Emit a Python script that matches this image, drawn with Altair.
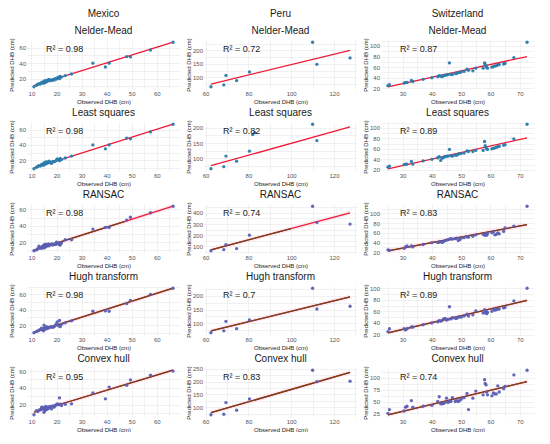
import altair as alt
import pandas as pd
import numpy as np

countries = ["Mexico", "Peru", "Switzerland"]
methods = ["Nelder-Mead", "Least squares", "RANSAC", "Hugh transform", "Convex hull"]

# ---------------- observed DHB per country ----------------
mexico_observed = [11.0, 12.0, 12.5, 13.0, 13.5, 14.0, 14.2, 14.8, 15.0, 15.2,
                   15.5, 15.8, 16.0, 16.3, 16.8, 17.0, 17.5, 18.0, 18.5, 19.0,
                   19.5, 20.0, 20.3, 20.8, 21.2, 21.5, 22.0, 23.5, 26.0, 34.5,
                   39.5, 41.0, 48.0, 49.5, 57.5, 66.5]
peru_observed = [62.5, 68.5, 69.5, 74.5, 80.5, 82.0, 83.0, 110.0, 112.0, 127.5]
switzerland_observed = [25.0, 25.5, 30.5, 31.0, 31.5, 33.0, 33.5, 37.0, 40.0,
                        42.0, 42.5, 43.0, 43.5, 44.0, 44.5, 45.0, 45.5, 46.0, 46.5,
                        47.0, 48.0, 48.5, 49.0, 49.5, 50.0, 51.0, 52.0, 52.5, 54.0,
                        55.0, 57.5, 58.0, 58.2, 58.5, 58.7, 59.0, 60.5, 61.0, 61.5,
                        62.0, 62.5, 63.0, 64.5, 65.0, 68.0, 72.5]

# ---------------- predicted DHB per method ----------------
mexico_nelder = [9.5, 11.5, 12.5, 13.5, 13, 14.5, 15.5, 14, 16.5, 17,
                 15, 17.5, 16, 18, 17, 19, 18, 17.5, 19, 18,
                 20, 19.5, 21, 22, 20, 23, 22, 24, 26, 40,
                 35, 40, 48.5, 48, 57, 67]
mexico_lsq = [9, 11, 12, 13, 12.5, 14, 15, 13.5, 16, 17,
              15, 18, 16, 17.5, 17, 19, 17.5, 16, 18.5, 18,
              19, 20.5, 22, 21, 19.5, 22.5, 21, 23, 25.5, 40,
              35, 40, 49, 48, 57, 67]
mexico_ransac = [9.5, 10.5, 12, 15, 13, 12.5, 14.5, 16, 13, 17,
                 14, 17.5, 15, 16.5, 18, 15.5, 17, 18, 16.5, 18,
                 17, 20, 18, 19, 17, 16.5, 19, 23, 23, 36,
                 38, 38, 47, 50.5, 56, 64]
mexico_hough = [10, 11.5, 12.5, 13.5, 14, 16, 15, 12.5, 20, 17,
                14.5, 16, 18, 15.5, 17, 16.5, 17.5, 18, 17, 18,
                19.5, 22, 24, 19, 26, 18, 21, 23, 25.5, 38,
                38.5, 38, 48, 52, 60, 68]
mexico_hull = [8, 13, 12, 13.5, 14, 16.5, 17, 15, 11, 17,
               13, 18, 15, 14.5, 17.5, 16, 18, 15, 18.5, 17,
               19, 20, 21, 20, 28, 20.5, 19, 20.5, 21, 34,
               27, 41, 43, 49.5, 55, 60]

peru_nelder = [65, 72, 107, 88, 120, None, None, 230, 148, 172]
peru_lsq = [65, 72, 107, 90, 123, 178, 184, 212, 158, None]
peru_ransac = [60, 70, 115, 80, 200, None, None, 460, 315, 300]
peru_hough = [65, 72, 107, 80, 112, None, None, 228, 152, 162]
peru_hull = [70, 72, 118, 88, 132, None, None, 245, 200, 202]

switzerland_nelder = [25, 27, 30, 31, 31, 35, 33, 37, 40,
                      42, 44, 43, 42, 44, 45, 45, 46, 68, 46,
                      46, 48, 48, 50, 50, 51, 52, 56, 54, 53,
                      58, 58, 68, 65, 62, 60, 58, 60, 61, 62,
                      63, 64, 65, 66, 67, 78, 107]
switzerland_lsq = [25, 27, 30, 31, 31, 36, 31, 37, 40,
                   43, 45, 38, 42, 44, 45, 46, 46, 59, 47,
                   46, 48, 48, 50, 51, 51, 52, 56, 55, 55,
                   57, 57, 74, 66, 62, 60, 59, 60, 61, 62,
                   63, 64, 65, 67, 68, 79, 107]
switzerland_ransac = [25, 24, 28, 31, 33, 33, 31, 36, 40,
                      40, 41, 42, 40, 42, 44, 45, 46, 47, 48,
                      47, 48, 49, 44, 46, 49, 50, 52, 51, 53,
                      56, 57, 55, 57, 59, 55, 58, 60, 62, 56,
                      57, 60, 58, 63, 70, 74, 115]
switzerland_hough = [25, 30, 30, 28, 30, 33, 33, 37, 40,
                     42, 44, 43, 44, 47, 48, 45, 46, 68, 47,
                     49, 48, 48, 50, 51, 50, 52, 55, 52, 54,
                     61, 57, 63, 58, 60, 56, 58, 60, 64, 62,
                     63, 64, 64, 66, 67, 78, 100]
switzerland_hull = [25, 33, 30, 38, 40, 52, 38, 40, 42,
                    50, 60, 45, 45, 46, 48, 57, 48, 50, 50,
                    58, 50, 52, 50, 52, 55, 58, 67, 33, 57,
                    72, 64, 96, 88, 85, 70, 64, 62, 68, 66,
                    66, 83, 70, 77, 82, 106, 116]

# ---------------- fitted line (y at smallest / largest observed DHB) ----------------
mexico_line_start = [11, 10, 10, 10.5, 11]
mexico_line_end = [67, 67, 64, 68, 61]
peru_line_start = [75, 75, 68, 72, 78]
peru_line_end = [200, 203, 400, 196, 237]
switzerland_line_start = [23, 22, 23, 23, 22]
switzerland_line_end = [80, 81, 77, 79, 92]

# where the dark fitted line stops covering the red one (RANSAC row)
mexico_dark_end = [None, None, 47, 66.5, 66.5]
peru_dark_end = [None, None, 100, 127.5, 127.5]
switzerland_dark_end = [None, None, 72.5, 72.5, 72.5]

# ---------------- R² labels ----------------
mexico_r2 = ["0.98", "0.98", "0.98", "0.98", "0.95"]
peru_r2 = ["0.72", "0.82", "0.74", "0.7", "0.83"]
switzerland_r2 = ["0.87", "0.89", "0.83", "0.89", "0.74"]

# ---------------- tick steps ----------------
x_step = {"Mexico": 10, "Peru": 20, "Switzerland": 10}
mexico_y_step = [20, 20, 20, 20, 20]
peru_y_step = [50, 50, 100, 50, 50]
switzerland_y_step = [20, 20, 20, 20, 25]

observed = {"Mexico": mexico_observed, "Peru": peru_observed, "Switzerland": switzerland_observed}
predicted = {
    "Mexico": [mexico_nelder, mexico_lsq, mexico_ransac, mexico_hough, mexico_hull],
    "Peru": [peru_nelder, peru_lsq, peru_ransac, peru_hough, peru_hull],
    "Switzerland": [switzerland_nelder, switzerland_lsq, switzerland_ransac,
                    switzerland_hough, switzerland_hull],
}
line_start = {"Mexico": mexico_line_start, "Peru": peru_line_start, "Switzerland": switzerland_line_start}
line_end = {"Mexico": mexico_line_end, "Peru": peru_line_end, "Switzerland": switzerland_line_end}
dark_end = {"Mexico": mexico_dark_end, "Peru": peru_dark_end, "Switzerland": switzerland_dark_end}
r2 = {"Mexico": mexico_r2, "Peru": peru_r2, "Switzerland": switzerland_r2}
y_step = {"Mexico": mexico_y_step, "Peru": peru_y_step, "Switzerland": switzerland_y_step}

FONT = "Liberation Sans"
POINT_LIGHT = "#2b7bab"
POINT_DARK = "#5a5fb3"
RED = "#ee1a36"
BROWN = "#6e4316"
PINK = "#fbd9ea"
W, H = 153, 49


def tick_values(lo, hi, step):
    half = step / 2
    start = np.ceil(lo / half) * half
    return [float(v) for v in np.arange(start, hi + 1e-9, half)]


def panel(ci, mi):
    country = countries[ci]
    method = methods[mi]
    obs = observed[country]
    pred = predicted[country][mi]
    pts = pd.DataFrame({"obs": obs, "pred": pred}).dropna()

    x0, x1 = min(obs), max(obs)
    y0, y1 = line_start[country][mi], line_end[country][mi]
    xs = x1 - x0
    xlo, xhi = x0 - 0.05 * xs, x1 + 0.05 * xs
    ys_all = list(pts["pred"]) + [y0, y1]
    ymin, ymax = min(ys_all), max(ys_all)
    ysp = ymax - ymin
    ylo, yhi = ymin - 0.05 * ysp, ymax + 0.05 * ysp

    xs_step = x_step[country]
    ys_step = y_step[country][mi]
    xscale = alt.Scale(domain=[xlo, xhi], nice=False, zero=False)
    yscale = alt.Scale(domain=[ylo, yhi], nice=False, zero=False)
    xaxis = alt.Axis(values=tick_values(xlo, xhi, xs_step),
                     labelExpr=f"datum.value % {xs_step} == 0 ? datum.label : ''",
                     title="Observed DHB (cm)")
    yaxis = alt.Axis(values=tick_values(ylo, yhi, ys_step),
                     labelExpr=f"datum.value % {ys_step} == 0 ? datum.label : ''",
                     title="Predicted DHB (cm)")

    slope = (y1 - y0) / (x1 - x0)
    line_df = pd.DataFrame({"obs": [x0, x1], "fit": [y0, y1]})
    layers = []
    dark = mi >= 2
    if dark:
        hw = 0.05 * ysp
        band_df = pd.DataFrame({"obs": [x0, x1], "lo": [y0 - hw, y1 - hw], "hi": [y0 + hw, y1 + hw]})
        layers.append(
            alt.Chart(band_df).mark_area(color=PINK, opacity=0.55).encode(
                x=alt.X("obs:Q", scale=xscale, axis=xaxis),
                y=alt.Y("lo:Q", scale=yscale, axis=yaxis),
                y2="hi:Q",
            )
        )
    layers.append(
        alt.Chart(line_df).mark_line(color=RED, strokeWidth=1.3).encode(
            x=alt.X("obs:Q", scale=xscale, axis=xaxis),
            y=alt.Y("fit:Q", scale=yscale, axis=yaxis),
        )
    )
    if dark:
        xe = dark_end[country][mi]
        dark_df = pd.DataFrame({"obs": [x0, xe], "fit": [y0, y0 + slope * (xe - x0)]})
        layers.append(
            alt.Chart(dark_df).mark_line(color=BROWN, strokeWidth=1.3).encode(
                x=alt.X("obs:Q", scale=xscale, axis=xaxis),
                y=alt.Y("fit:Q", scale=yscale, axis=yaxis),
            )
        )
    layers.append(
        alt.Chart(pts).mark_circle(size=11, opacity=0.95,
                                   color=POINT_DARK if dark else POINT_LIGHT).encode(
            x=alt.X("obs:Q", scale=xscale, axis=xaxis),
            y=alt.Y("pred:Q", scale=yscale, axis=yaxis),
        )
    )
    lab = pd.DataFrame({"label": [f"R\u00b2 = {r2[country][mi]}"]})
    layers.append(
        alt.Chart(lab).mark_text(align="left", baseline="middle", fontSize=9,
                                 font=FONT, color="#1a1a1a").encode(
            x=alt.value(19), y=alt.value(9), text="label:N"
        )
    )
    if mi == 0:
        title = alt.TitleParams(text=country, subtitle=method, fontSize=10,
                                subtitleFontSize=10, subtitlePadding=7,
                                font=FONT, subtitleFont=FONT, color="#1a1a1a",
                                subtitleColor="#1a1a1a", fontWeight="normal",
                                anchor="middle", frame="group", offset=2)
    else:
        title = alt.TitleParams(text=method, fontSize=10, font=FONT, color="#1a1a1a",
                                fontWeight="normal", anchor="middle",
                                frame="group", offset=2)
    return alt.layer(*layers).properties(width=W, height=H, title=title)


panels = [panel(ci, mi) for mi in range(len(methods)) for ci in range(len(countries))]

chart = alt.concat(*panels, columns=3, spacing={"row": 3, "column": 5}).properties(
    padding={"left": 0, "right": 1, "top": 0, "bottom": 0}
).configure_view(stroke=None).configure_axis(
    domain=False, ticks=False, grid=True, gridColor="#e8e8e8", gridWidth=0.6,
    labelFont=FONT, titleFont=FONT, labelFontSize=6, titleFontSize=6,
    labelColor="#555555", titleColor="#222222", titleFontWeight="normal",
    labelPadding=1.5, titlePadding=1.5,
).configure_axisY(minExtent=11, maxExtent=11).configure_axisX(labelOverlap=False)

chart.save("out.html", embed_options={"renderer": "svg", "actions": False})
